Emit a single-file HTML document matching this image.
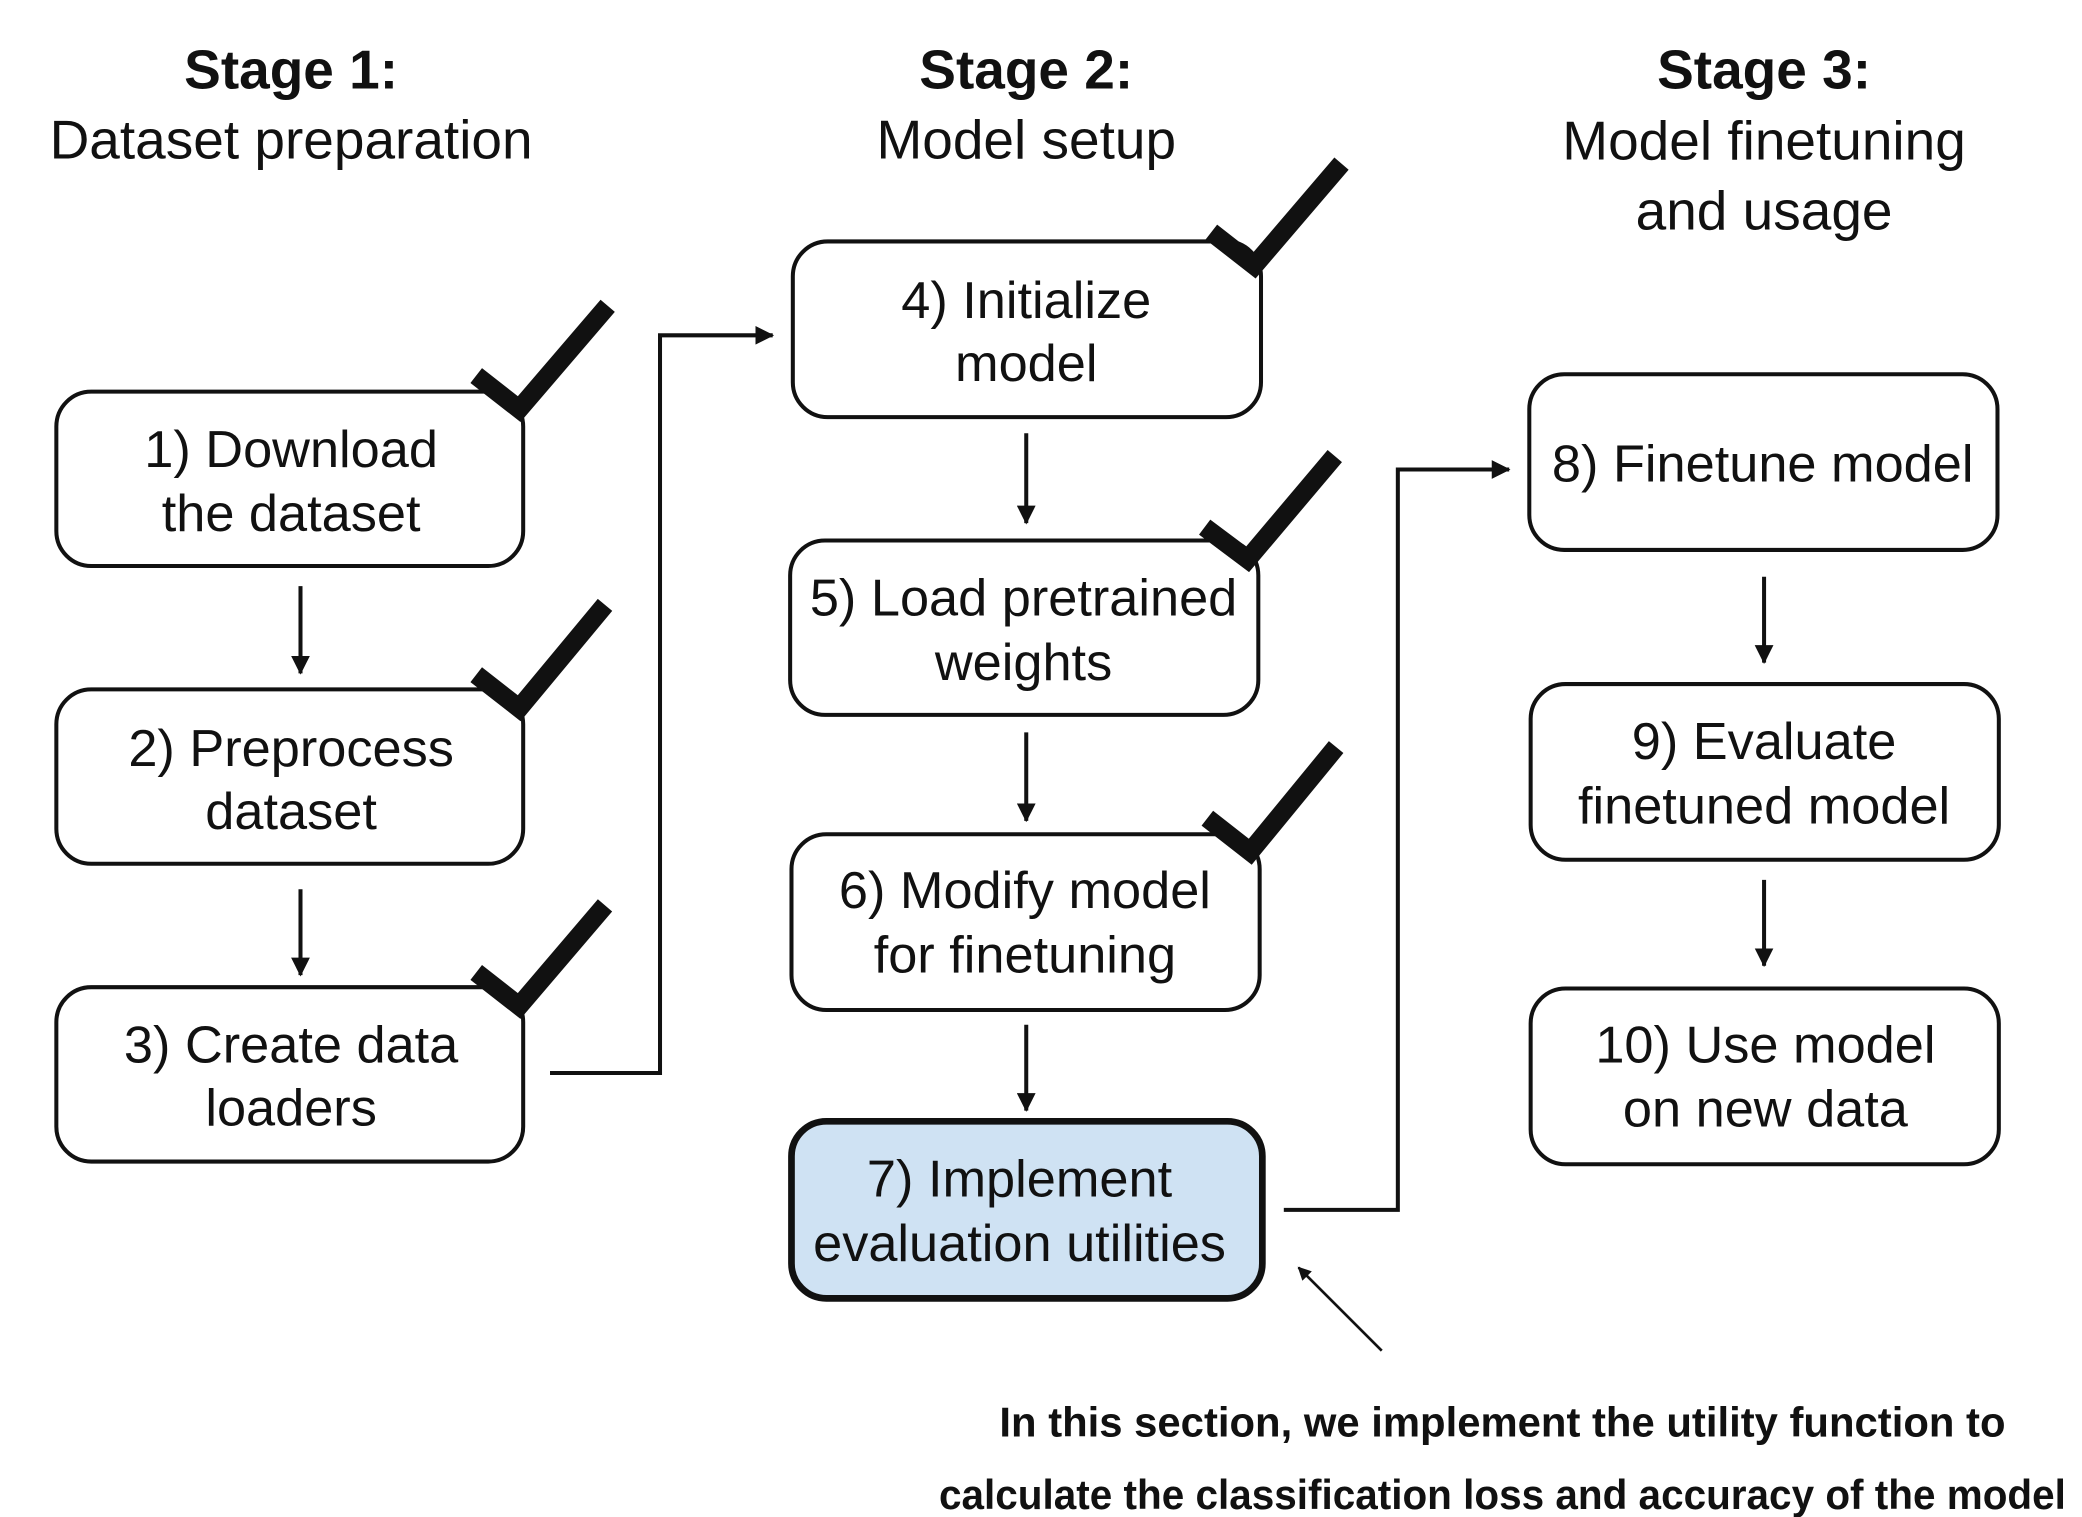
<!DOCTYPE html>
<html><head><meta charset="utf-8"><style>
html,body{margin:0;padding:0;background:#fff;}
svg{display:block;}
text{font-family:"Liberation Sans",sans-serif;fill:#111;}
</style></head><body>
<svg width="2082" height="1517" viewBox="0 0 1552 1131" preserveAspectRatio="none" xmlns="http://www.w3.org/2000/svg">
<defs>
<marker id="ah" markerWidth="10" markerHeight="10" refX="9" refY="5" orient="auto" markerUnits="userSpaceOnUse" viewBox="0 0 10 10">
<path d="M0,0 L10,5 L0,10 z" fill="#111"/></marker>
<marker id="ah2" markerWidth="14" markerHeight="14" refX="13" refY="7" orient="auto" markerUnits="userSpaceOnUse" viewBox="0 0 14 14">
<path d="M0,0 L14,7 L0,14 z" fill="#111"/></marker>
</defs>
<g text-anchor="middle" font-size="41">
<text x="217" y="66" font-weight="bold">Stage 1:</text>
<text x="217" y="118">Dataset preparation</text>
<text x="765" y="66" font-weight="bold">Stage 2:</text>
<text x="765" y="118">Model setup</text>
<text x="1315" y="66" font-weight="bold">Stage 3:</text>
<text x="1315" y="119">Model finetuning</text>
<text x="1315" y="171">and usage</text>
</g>
<g fill="#fff" stroke="#111" stroke-width="3">
<rect x="42" y="292" width="348" height="130" rx="26"/>
<rect x="42" y="514" width="348" height="130" rx="26"/>
<rect x="42" y="736" width="348" height="130" rx="26"/>
<rect x="591" y="180" width="349" height="131" rx="26"/>
<rect x="589" y="403" width="349" height="130" rx="26"/>
<rect x="590" y="622" width="349" height="131" rx="26"/>
<rect x="590" y="836" width="351" height="132" rx="26" fill="#cfe2f3" stroke-width="5"/>
<rect x="1140" y="279" width="349" height="131" rx="26"/>
<rect x="1141" y="510" width="349" height="131" rx="26"/>
<rect x="1141" y="737" width="349" height="131" rx="26"/>
</g>
<g text-anchor="middle" font-size="39">
<text x="217" y="348">1) Download</text><text x="217" y="396">the dataset</text>
<text x="217" y="571">2) Preprocess</text><text x="217" y="618">dataset</text>
<text x="217" y="792">3) Create data</text><text x="217" y="839">loaders</text>
<text x="765" y="237">4) Initialize</text><text x="765" y="284">model</text>
<text x="763" y="459">5) Load pretrained</text><text x="763" y="507">weights</text>
<text x="764" y="677">6) Modify model</text><text x="764" y="725">for finetuning</text>
<text x="760" y="892">7) Implement</text><text x="760" y="940">evaluation utilities</text>
<text x="1314" y="359">8) Finetune model</text>
<text x="1315" y="566">9) Evaluate</text><text x="1315" y="614">finetuned model</text>
<text x="1316" y="792">10) Use model</text><text x="1316" y="840">on new data</text>
</g>
<g stroke="#111" stroke-width="3" fill="none">
<line x1="224" y1="437" x2="224" y2="502" marker-end="url(#ah2)"/>
<line x1="224" y1="663" x2="224" y2="727" marker-end="url(#ah2)"/>
<line x1="765" y1="323" x2="765" y2="390" marker-end="url(#ah2)"/>
<line x1="765" y1="546" x2="765" y2="612" marker-end="url(#ah2)"/>
<line x1="765" y1="764" x2="765" y2="828" marker-end="url(#ah2)"/>
<line x1="1315" y1="430" x2="1315" y2="494" marker-end="url(#ah2)"/>
<line x1="1315" y1="656" x2="1315" y2="720" marker-end="url(#ah2)"/>
<polyline points="410,800 492,800 492,250 576,250" marker-end="url(#ah2)"/>
<polyline points="957,902 1042,902 1042,350 1125,350" marker-end="url(#ah2)"/>
<line x1="1030" y1="1007" x2="968" y2="945" stroke-width="2" marker-end="url(#ah)"/>
</g>
<g stroke="#111" stroke-width="14" fill="none" stroke-linejoin="miter">
<polyline points="355,280 387,305 453,228"/>
<polyline points="355,503 387,528 451,451"/>
<polyline points="355,725 387,750 451,675"/>
<polyline points="903,173 935,198 1000,122"/>
<polyline points="898,393 930,417 995,340"/>
<polyline points="900,610 932,635 996,557"/>
</g>
<g font-weight="bold" font-size="31" text-anchor="start">
<text x="745" y="1071" textLength="750" lengthAdjust="spacingAndGlyphs">In this section, we implement the utility function to</text>
<text x="700" y="1125" textLength="840" lengthAdjust="spacingAndGlyphs">calculate the classification loss and accuracy of the model</text>
</g>
</svg>
</body></html>
